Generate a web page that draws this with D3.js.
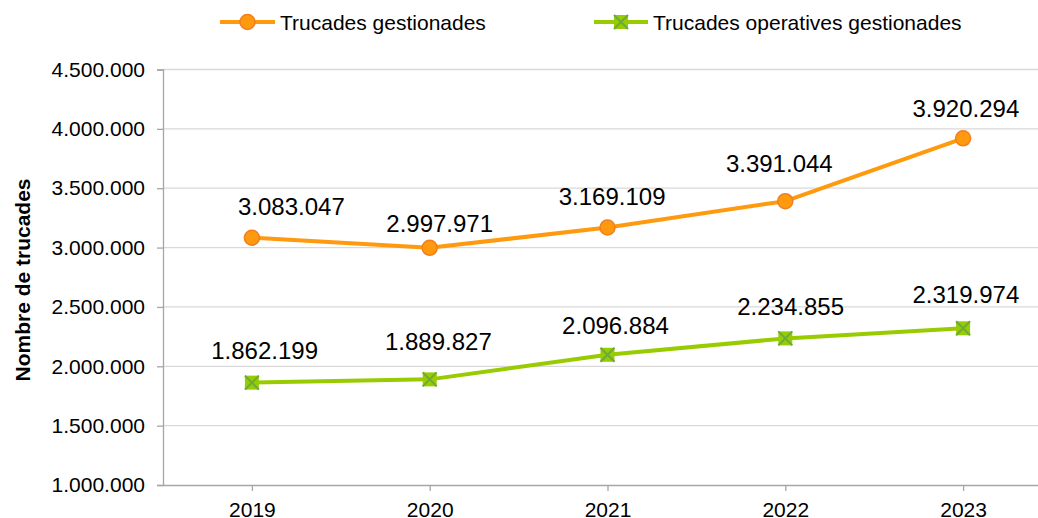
<!DOCTYPE html>
<html>
<head>
<meta charset="utf-8">
<script src="https://cdn.jsdelivr.net/npm/d3@7"></script>
<style>
  html, body { margin: 0; padding: 0; background: #fff; }
  svg { display: block; font-family: "Liberation Sans", Arial, sans-serif; }
</style>
</head>
<body>
<svg id="chart" width="1038" height="518"></svg>
<script>
// Calls handled per year
const years = ["2019", "2020", "2021", "2022", "2023"];
const trucadesGestionades = [3083047, 2997971, 3169109, 3391044, 3920294];
const trucadesOperatives = [1862199, 1889827, 2096884, 2234855, 2319974];
const yTicks = [1000000, 1500000, 2000000, 2500000, 3000000, 3500000, 4000000, 4500000];
const seriesNames = ["Trucades gestionades", "Trucades operatives gestionades"];
const yTitle = "Nombre de trucades";

// Hand-placed offsets of the value labels from their points [dx, dy]
const nudgeGestionades = [[39.5, -22.7], [10, -16], [4.6, -22.3], [-6, -29], [2.8, -21.6]];
const nudgeOperatives = [[12.7, -23.4], [8.7, -29.3], [8, -20.7], [5.3, -23.4], [2.8, -25]];

const svg = d3.select("#chart");
const plotLeft = 163, plotRight = 1052, plotTop = 69.5, plotBottom = 485;

const x = d3.scalePoint().domain(years).range([plotLeft, plotRight]).padding(0.5);
const y = d3.scaleLinear().domain([1000000, 4500000]).range([plotBottom, plotTop]);

// Thousands separated with dots
const fmt = d3.formatLocale({ decimal: ",", thousands: ".", grouping: [3], currency: ["", "€"] }).format(",d");

// Horizontal gridlines
svg.append("g")
  .selectAll("line")
  .data(yTicks.slice(1))
  .join("line")
  .attr("x1", plotLeft).attr("x2", plotRight)
  .attr("y1", d => y(d)).attr("y2", d => y(d))
  .attr("stroke", "#d9d9d9").attr("stroke-width", 1.3);

// Y axis
const yAxis = svg.append("g")
  .attr("transform", `translate(${plotLeft},0)`)
  .call(d3.axisLeft(y).tickValues(yTicks).tickFormat(fmt).tickSize(6).tickPadding(12));
yAxis.select(".domain").attr("stroke", "#a6a6a6").attr("stroke-width", 1.3);
yAxis.selectAll(".tick line").attr("stroke", "#a6a6a6").attr("stroke-width", 1.3);
yAxis.selectAll(".tick text")
  .attr("font-size", 21).attr("fill", "#000")
  .attr("font-family", "Liberation Sans, Arial, sans-serif");

// X axis
const xAxis = svg.append("g")
  .attr("transform", `translate(0,${plotBottom})`)
  .call(d3.axisBottom(x).tickSize(6).tickPadding(11).tickSizeOuter(0));
xAxis.select(".domain").attr("stroke", "#a6a6a6").attr("stroke-width", 1.3);
xAxis.selectAll(".tick line").attr("stroke", "#a6a6a6").attr("stroke-width", 1.3);
xAxis.selectAll(".tick text")
  .attr("font-size", 21).attr("fill", "#000")
  .attr("font-family", "Liberation Sans, Arial, sans-serif");

// Y axis title
svg.append("text")
  .attr("transform", "translate(30,280) rotate(-90)")
  .attr("text-anchor", "middle")
  .attr("font-size", 21).attr("font-weight", "bold")
  .text(yTitle);

const line = d3.line().x((d, i) => x(years[i])).y(d => y(d));

const orange = "#ff9a0e", orangeStroke = "#f07f1f";
const green = "#99cc00", greenX = "#6aab3a";

// Series lines
svg.append("path").datum(trucadesGestionades)
  .attr("d", line).attr("fill", "none")
  .attr("stroke", orange).attr("stroke-width", 4).attr("stroke-linejoin", "round");
svg.append("path").datum(trucadesOperatives)
  .attr("d", line).attr("fill", "none")
  .attr("stroke", green).attr("stroke-width", 4).attr("stroke-linejoin", "round");

// Circle markers
function circleMarker(g, cx, cy) {
  g.append("circle").attr("cx", cx).attr("cy", cy).attr("r", 7.5)
    .attr("fill", orange).attr("stroke", orangeStroke).attr("stroke-width", 1.5);
}
// Square markers with a cross
function squareMarker(g, cx, cy) {
  const s = 7;
  g.append("rect").attr("x", cx - s).attr("y", cy - s).attr("width", 2 * s).attr("height", 2 * s)
    .attr("fill", green);
  g.append("path")
    .attr("d", `M${cx - s},${cy - s}L${cx + s},${cy + s}M${cx + s},${cy - s}L${cx - s},${cy + s}`)
    .attr("stroke", greenX).attr("stroke-width", 2);
}

const marks = svg.append("g");
trucadesGestionades.forEach((v, i) => circleMarker(marks, x(years[i]), y(v)));
trucadesOperatives.forEach((v, i) => squareMarker(marks, x(years[i]), y(v)));

// Value labels
function valueLabels(values, nudge) {
  svg.append("g").selectAll("text")
    .data(values)
    .join("text")
    .attr("x", (d, i) => x(years[i]) + nudge[i][0])
    .attr("y", (d, i) => y(d) + nudge[i][1])
    .attr("text-anchor", "middle").attr("font-size", 24).attr("fill", "#000")
    .text(d => fmt(d));
}
valueLabels(trucadesGestionades, nudgeGestionades);
valueLabels(trucadesOperatives, nudgeOperatives);

// Legend
const legend = svg.append("g");
const ly = 22;
legend.append("line").attr("x1", 220).attr("x2", 275).attr("y1", ly).attr("y2", ly)
  .attr("stroke", orange).attr("stroke-width", 4);
circleMarker(legend, 247.5, ly);
legend.append("text").attr("x", 280).attr("y", ly + 7.5).attr("font-size", 21).text(seriesNames[0]);

legend.append("line").attr("x1", 594).attr("x2", 648).attr("y1", ly).attr("y2", ly)
  .attr("stroke", green).attr("stroke-width", 4);
squareMarker(legend, 621, ly);
legend.append("text").attr("x", 653).attr("y", ly + 7.5).attr("font-size", 21).text(seriesNames[1]);
</script>
</body>
</html>
